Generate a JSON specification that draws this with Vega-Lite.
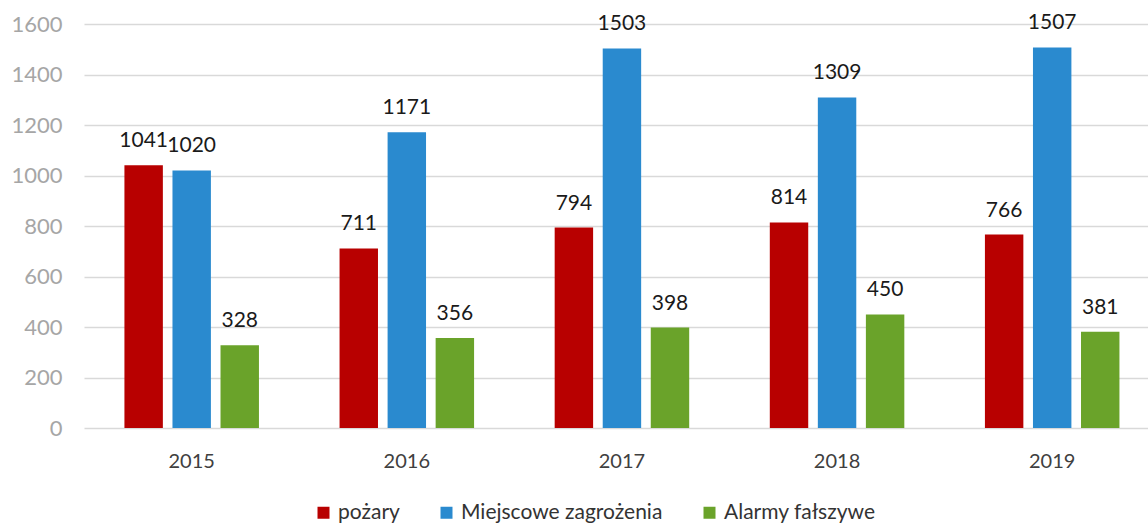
{
  "$schema": "https://vega.github.io/schema/vega-lite/v6.json",
  "width": 1064,
  "height": 404,
  "autosize": {"type": "none"},
  "padding": {"left": 84, "top": 24, "right": 0, "bottom": 99},
  "background": "white",
  "config": {"view": {"stroke": null}, "font": "Lato"},
  "data": {
    "values": [
      {"rok": "2015", "kat": "pożary", "wartosc": 1041},
      {"rok": "2015", "kat": "Miejscowe zagrożenia", "wartosc": 1020},
      {"rok": "2015", "kat": "Alarmy fałszywe", "wartosc": 328},
      {"rok": "2016", "kat": "pożary", "wartosc": 711},
      {"rok": "2016", "kat": "Miejscowe zagrożenia", "wartosc": 1171},
      {"rok": "2016", "kat": "Alarmy fałszywe", "wartosc": 356},
      {"rok": "2017", "kat": "pożary", "wartosc": 794},
      {"rok": "2017", "kat": "Miejscowe zagrożenia", "wartosc": 1503},
      {"rok": "2017", "kat": "Alarmy fałszywe", "wartosc": 398},
      {"rok": "2018", "kat": "pożary", "wartosc": 814},
      {"rok": "2018", "kat": "Miejscowe zagrożenia", "wartosc": 1309},
      {"rok": "2018", "kat": "Alarmy fałszywe", "wartosc": 450},
      {"rok": "2019", "kat": "pożary", "wartosc": 766},
      {"rok": "2019", "kat": "Miejscowe zagrożenia", "wartosc": 1507},
      {"rok": "2019", "kat": "Alarmy fałszywe", "wartosc": 381}
    ]
  },
  "encoding": {
    "x": {
      "field": "rok",
      "type": "nominal",
      "scale": {"paddingInner": 0.33, "paddingOuter": 0.138, "align": 0.6},
      "axis": {
        "title": null,
        "labelAngle": 0,
        "ticks": false,
        "domain": false,
        "grid": false,
        "labelFontSize": 20,
        "labelColor": "#404040",
        "labelPadding": 23
      }
    },
    "xOffset": {
      "field": "kat",
      "type": "nominal",
      "sort": ["pożary", "Miejscowe zagrożenia", "Alarmy fałszywe"],
      "scale": {"paddingInner": 0.2, "paddingOuter": 0.1}
    },
    "y": {
      "field": "wartosc",
      "type": "quantitative",
      "scale": {"domain": [0, 1600]},
      "axis": {
        "title": null,
        "values": [0, 200, 400, 600, 800, 1000, 1200, 1400, 1600],
        "format": "d",
        "ticks": false,
        "domain": false,
        "gridColor": "#d9d9d9",
        "gridWidth": 1.5,
        "labelFontSize": 22,
        "labelColor": "#a6a6a6",
        "labelPadding": 22
      }
    }
  },
  "layer": [
    {
      "mark": {"type": "bar"},
      "encoding": {
        "color": {
          "field": "kat",
          "type": "nominal",
          "sort": ["pożary", "Miejscowe zagrożenia", "Alarmy fałszywe"],
          "scale": {
            "domain": ["pożary", "Miejscowe zagrożenia", "Alarmy fałszywe"],
            "range": ["#b80000", "#2a8acf", "#6aa32a"]
          },
          "legend": {
            "title": null,
            "orient": "none",
            "direction": "horizontal",
            "legendX": 229,
            "legendY": 478,
            "symbolType": "square",
            "symbolSize": 144,
            "symbolStrokeWidth": 0,
            "labelFontSize": 21,
            "labelLimit": 0,
            "labelColor": "#333333",
            "columnPadding": 36,
            "labelOffset": 4
          }
        }
      }
    },
    {
      "mark": {"type": "text", "dy": -18, "baseline": "alphabetic", "fontSize": 21, "color": "#1a1a1a"},
      "encoding": {"text": {"field": "wartosc", "type": "quantitative"}}
    }
  ]
}
